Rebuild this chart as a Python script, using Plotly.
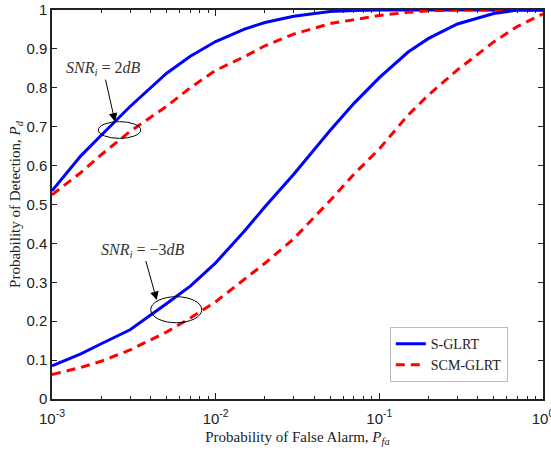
import plotly.graph_objects as go

# ---------------- data ----------------
pfa = [0.001, 0.0015, 0.002, 0.003, 0.005, 0.007, 0.01, 0.015, 0.02, 0.03,
       0.05, 0.07, 0.1, 0.15, 0.2, 0.3, 0.5, 0.7, 1.0]

sglrt_2db = [0.535, 0.625, 0.678, 0.752, 0.837, 0.881, 0.919, 0.951, 0.968, 0.984,
             0.996, 0.999, 1.0, 1.0, 1.0, 1.0, 1.0, 1.0, 1.0]
scm_2db = [0.525, 0.582, 0.628, 0.688, 0.752, 0.800, 0.845, 0.880, 0.908, 0.938,
           0.965, 0.976, 0.986, 0.994, 0.998, 1.0, 1.0, 1.0, 1.0]
sglrt_m3db = [0.085, 0.116, 0.142, 0.178, 0.245, 0.290, 0.350, 0.432, 0.494, 0.578,
              0.690, 0.760, 0.826, 0.892, 0.927, 0.964, 0.991, 1.0, 1.0]
scm_m3db = [0.063, 0.081, 0.097, 0.126, 0.172, 0.208, 0.250, 0.309, 0.349, 0.412,
            0.510, 0.578, 0.643, 0.730, 0.782, 0.846, 0.918, 0.958, 0.990]

series_names = ["S-GLRT", "SCM-GLRT"]
y_ticks = [0, 0.1, 0.2, 0.3, 0.4, 0.5, 0.6, 0.7, 0.8, 0.9, 1]
y_tick_labels = ["0", "0.1", "0.2", "0.3", "0.4", "0.5", "0.6", "0.7", "0.8", "0.9", "1"]
x_ticks = [0.001, 0.01, 0.1, 1]
x_tick_labels = ["10<sup>-3</sup>", "10<sup>-2</sup>", "10<sup>-1</sup>", "10<sup>0</sup>"]
x_minor = [m * d for d in (0.001, 0.01, 0.1) for m in range(2, 10)]

BLUE = "#0000ff"
RED = "#ff0000"
SERIF = "Liberation Serif"
SANS = "Liberation Sans"

fig = go.Figure()
curves = [
    (sglrt_2db, BLUE, "solid", series_names[0], True),
    (scm_2db, RED, "9px,6px", series_names[1], True),
    (sglrt_m3db, BLUE, "solid", series_names[0], False),
    (scm_m3db, RED, "9px,6px", series_names[1], False),
]
for yv, col, dash, name, show in curves:
    fig.add_trace(go.Scatter(
        x=pfa, y=yv, mode="lines", name=name, showlegend=show,
        line=dict(color=col, width=3, dash=dash), cliponaxis=False,
    ))

# ellipses marking the curve pairs
fig.add_shape(type="circle", xref="x", yref="y",
              x0=0.001919, x1=0.003483, y0=0.670, y1=0.713,
              line=dict(color="black", width=1))
fig.add_shape(type="circle", xref="x", yref="y",
              x0=0.004009, x1=0.008222, y0=0.196, y1=0.263,
              line=dict(color="black", width=1))

ann_font = dict(family=SERIF, size=16, color="#333333")
fig.add_annotation(x=-2.615, y=0.713, xref="x", yref="y",
                   text="<i>SNR</i><sub><i>i</i></sub> = 2<i>dB</i>",
                   showarrow=True, ax=-12, ay=-53, arrowhead=2, arrowsize=1.7,
                   arrowwidth=1, arrowcolor="black", font=ann_font)
fig.add_annotation(x=-2.360, y=0.2545, xref="x", yref="y",
                   text="<i>SNR</i><sub><i>i</i></sub> = \u22123<i>dB</i>",
                   showarrow=True, ax=-14, ay=-50, arrowhead=2, arrowsize=1.7,
                   arrowwidth=1, arrowcolor="black", font=ann_font)

axis_common = dict(
    showgrid=False, zeroline=False, showline=True, linecolor="#222222",
    linewidth=1.5, mirror="ticks", ticks="inside", tickcolor="#222222",
    tickfont=dict(family=SANS, size=15, color="#222222"),
    automargin=False, ticklabeloverflow="allow",
)

fig.update_xaxes(
    type="log", range=[-3, 0], tickmode="array", tickvals=x_ticks,
    ticktext=x_tick_labels, ticklen=6, ticklabelstandoff=5,
    minor=dict(tickmode="array", tickvals=x_minor, ticks="inside",
               ticklen=3, tickcolor="#222222"),
    title=dict(text="Probability of False Alarm, <i>P<sub>fa</sub></i>",
               font=dict(family=SERIF, size=15, color="#222222"), standoff=6),
    **axis_common,
)
fig.update_yaxes(
    range=[0, 1], tickmode="array", tickvals=y_ticks, ticktext=y_tick_labels,
    ticklen=5,
    title=dict(text="Probability of Detection, <i>P<sub>d</sub></i>",
               font=dict(family=SERIF, size=15, color="#222222"), standoff=2),
    **axis_common,
)

fig.update_layout(
    width=551, height=452,
    margin=dict(l=52, r=8, t=10, b=53),
    paper_bgcolor="white", plot_bgcolor="white",
    legend=dict(x=0.688, y=0.185, xanchor="left", yanchor="top",
                bgcolor="white", bordercolor="#bbbbbb", borderwidth=1,
                font=dict(family=SERIF, size=14, color="#222222"),
                tracegroupgap=0, itemwidth=30),
)

fig.write_html("out.html", config={"displayModeBar": False},
               post_script="document.body.style.margin='0';document.body.style.overflow='hidden';")
